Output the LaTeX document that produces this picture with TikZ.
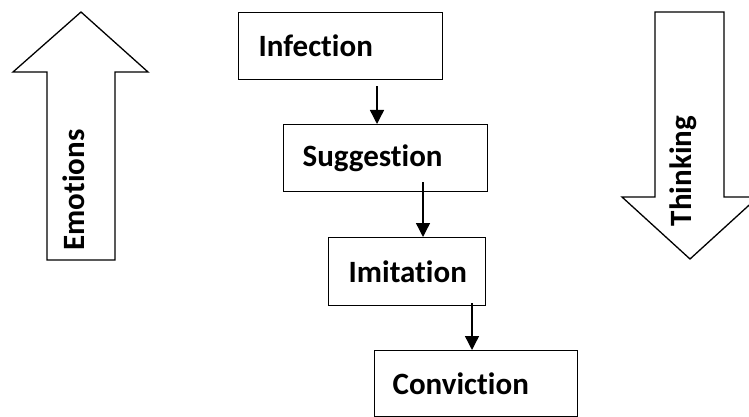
\documentclass[tikz,border=0pt]{standalone}
\usepackage{fontspec}
\setmainfont{Carlito}[RawFeature={-liga;-clig;-calt}]
\usetikzlibrary{arrows.meta}
\tikzset{
  stage/.style={draw=black, line width=1.3pt, rectangle, anchor=north west,
    inner xsep=0pt, inner ysep=0pt, align=left,
    font=\fontsize{31}{34}\selectfont\bfseries},
  block/.style={draw=black, line width=1.3pt, fill=white, line join=miter},
  blocklabel/.style={rotate=90, font=\fontsize{31}{34}\selectfont\bfseries, inner sep=0pt},
  flow/.style={line width=1.4pt, -{Triangle[width=14pt,length=14pt]}}
}
\begin{document}
\begin{tikzpicture}[x=1pt,y=-1pt]
\clip (0,0) rectangle (749,417);
\fill[white] (0,0) rectangle (749,417);
% block arrows
\draw[block] (81,12) -- (148,72) -- (115,72) -- (115,260) -- (47,260) -- (47,72) -- (13,72) -- cycle;
\node[blocklabel] (emo) at (74,190) {Emotions};
\draw[block] (655,12) -- (724,12) -- (724,197) -- (758,197) -- (690,259) -- (622,197) -- (655,197) -- cycle;
\node[blocklabel] (thi) at (683,171) {Thinking};
% stages
\node[stage, minimum width=204pt, minimum height=67pt, text width=204pt] (inf) at (238,12) {\hspace*{20pt}Infection};
\node[stage, minimum width=204pt, minimum height=67pt, text width=204pt] (sug) at (283,124) {\hspace*{19pt}Suggestion};
\node[stage, minimum width=157pt, minimum height=68pt, text width=157pt] (imi) at (328,237) {\hspace*{20pt}Imitation};
\node[stage, minimum width=203pt, minimum height=66pt, text width=203pt] (con) at (374,350) {\hspace*{18pt}Conviction};
% connectors
\coordinate (s1) at ([yshift=-6pt]inf.south -| 377,0);
\draw[flow] (s1) -- (s1 |- sug.north);
\coordinate (s2) at ([yshift=10pt]sug.south -| 423,0);
\draw[flow] (s2) -- (s2 |- imi.north);
\coordinate (s3) at ([yshift=3pt]imi.south -| 472,0);
\draw[flow] (s3) -- (s3 |- con.north);
\end{tikzpicture}
\end{document}
